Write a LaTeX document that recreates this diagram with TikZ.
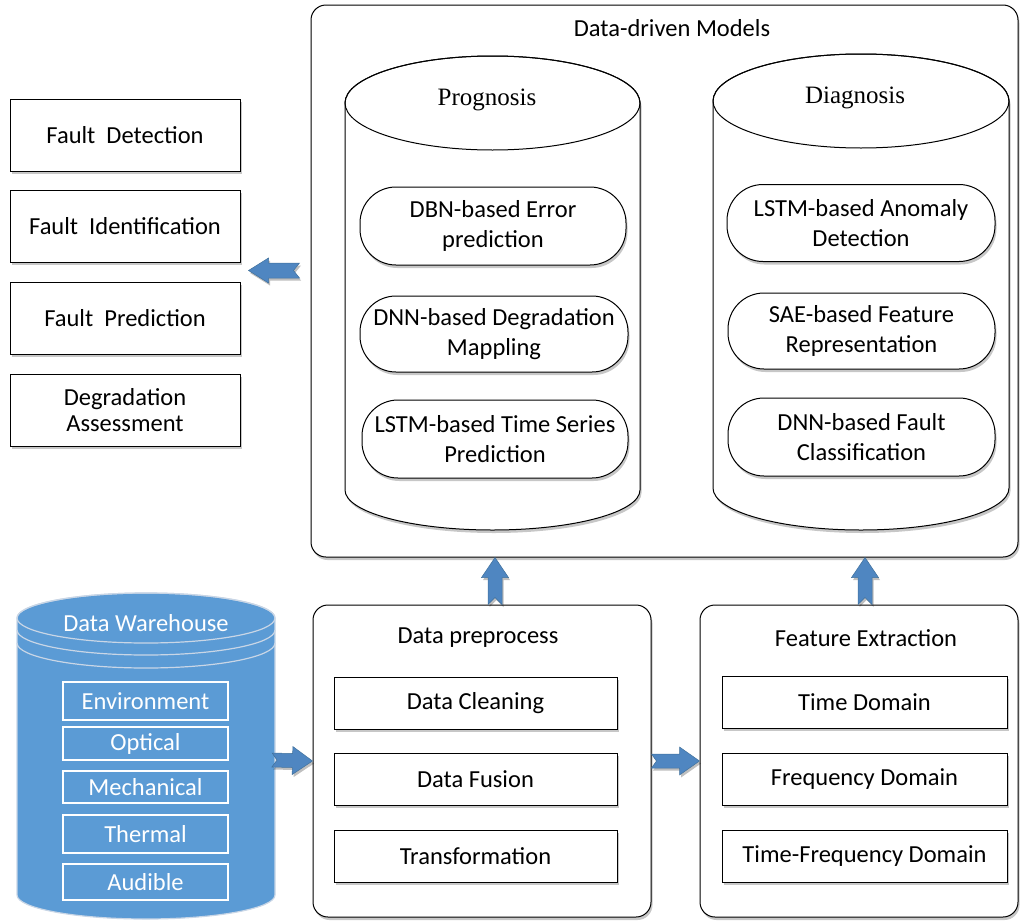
\documentclass[tikz,border=0pt]{standalone}
\usepackage{fontspec}
\setmainfont{Carlito}
\newfontfamily\timesfont{Liberation Serif}
\usetikzlibrary{calc,shadows}

\definecolor{whblue}{HTML}{5B9BD5}
\definecolor{whedge}{HTML}{C9D6E6}
\definecolor{arrowblue}{HTML}{4F86C1}
\definecolor{arrowedge}{HTML}{41719C}

\tikzset{
  base/.style={font=\fontsize{24.5}{30}\selectfont, align=center, inner sep=0pt},
  shade/.style={drop shadow={shadow xshift=1.5pt, shadow yshift=-3pt, fill=black, opacity=0.22}},
  plainbox/.style={base, draw, line width=1pt, fill=white, shade},
  panel/.style={draw, line width=1pt, fill=white, rounded corners=15pt, shade},
  pill/.style={base, draw, line width=1pt, fill=white, rounded corners=36pt, shade},
  cyl/.style={draw, line width=1pt, fill=white, shade},
  whbox/.style={base, draw=white, line width=1.2pt, text=white},
  serifhead/.style={base, font=\timesfont\fontsize{25}{28}\selectfont},
  blockarrow/.style={fill=arrowblue, draw=arrowedge, line width=0.5pt, line join=miter,
    drop shadow={shadow xshift=1.5pt, shadow yshift=-2.5pt, fill=black, opacity=0.25}},
}

% notched block arrow: start, tip, shaft half width, head half width, head length, notch depth
\newcommand\notcharrow[6]{%
  \coordinate (nah) at ($(#2)!#5!(#1)$);
  \path[blockarrow] ($(#1)!#3!90:(#2)$) -- ($(nah)!#3!90:(#2)$) -- ($(nah)!#4!90:(#2)$)
    -- (#2) -- ($(nah)!#4!-90:(#2)$) -- ($(nah)!#3!-90:(#2)$) -- ($(#1)!#3!-90:(#2)$)
    -- ($(#1)!#6!(#2)$) -- cycle;
}

\begin{document}
\begin{tikzpicture}[x=1pt, y=-1pt]
\useasboundingbox (0,0) rectangle (1020,921);

% ---------- outcome boxes ----------
\node[plainbox, minimum width=230pt, minimum height=72pt] (fdet) at (125,135) {Fault~ Detection};
\node[plainbox, minimum width=230pt, minimum height=72pt] (fid)  at (125,226) {Fault~ Identification};
\node[plainbox, minimum width=230pt, minimum height=72pt] (fpre) at (125,318) {Fault~ Prediction};
\node[plainbox, minimum width=230pt, minimum height=72pt, font=\fontsize{24.5}{25.5}\selectfont] (fdeg) at (125,410) {Degradation\\Assessment};

% ---------- data-driven models ----------
\node[panel, minimum width=707pt, minimum height=552pt] (models) at (664.5,281) {};
\node[base] (mtitle) at (672,28) {Data-driven Models};

% prognosis cylinder
\path[cyl] (345,103) -- (345,490) arc[start angle=180, end angle=0, x radius=147.5, y radius=40]
  -- (640,103) arc[start angle=0, end angle=-180, x radius=147.5, y radius=47] -- cycle;
\draw[line width=1pt] (492.5,103) ellipse [x radius=147.5, y radius=47];
\node[serifhead] (prog) at (487,100) {Prognosis};

% diagnosis cylinder
\path[cyl] (713,101) -- (713,488) arc[start angle=180, end angle=0, x radius=148, y radius=42]
  -- (1009,101) arc[start angle=0, end angle=-180, x radius=148, y radius=47] -- cycle;
\draw[line width=1pt] (861,101) ellipse [x radius=148, y radius=47];
\node[serifhead] (diag) at (855,98) {Diagnosis};

% model pills
\node[pill, minimum width=266pt, minimum height=78pt] (p1) at (493,226) {DBN-based Error\\prediction};
\node[pill, minimum width=268pt, minimum height=76pt] (p2) at (494,334) {DNN-based Degradation\\Mappling};
\node[pill, minimum width=266pt, minimum height=78pt] (p3) at (495,439) {LSTM-based Time Series\\Prediction};
\node[pill, minimum width=268pt, minimum height=77pt] (d1) at (861,223) {LSTM-based Anomaly\\Detection};
\node[pill, minimum width=267pt, minimum height=76pt] (d2) at (861.5,331) {SAE-based Feature\\Representation};
\node[pill, minimum width=267pt, minimum height=78pt] (d3) at (861.5,437) {DNN-based Fault\\Classification};

% ---------- data warehouse ----------
\path[fill=whblue, draw=whedge, line width=1.2pt]
  (17,618) -- (17,895) arc[start angle=180, end angle=0, x radius=129, y radius=24]
  -- (275,618) arc[start angle=0, end angle=-180, x radius=129, y radius=25] -- cycle;
\draw[whedge, line width=1.2pt] (146,618) ellipse [x radius=129, y radius=25];
\draw[whedge, line width=1.2pt] (17,630) arc[start angle=180, end angle=0, x radius=129, y radius=25];
\draw[whedge, line width=1.2pt] (17,643) arc[start angle=180, end angle=0, x radius=129, y radius=25];
\node[base, text=white] (ware) at (146,623) {Data Warehouse};
\coordinate (warecol) at (146,760);
\node[whbox, minimum width=165pt, minimum height=38pt] (s1) at (145.5,701) {Environment};
\node[whbox, minimum width=165pt, minimum height=33pt] (s2) at (145.5,743.5) {Optical};
\node[whbox, minimum width=165pt, minimum height=32pt] (s3) at (145.5,787) {Mechanical};
\node[whbox, minimum width=165pt, minimum height=38pt] (s4) at (145.5,834) {Thermal};
\node[whbox, minimum width=165pt, minimum height=36pt] (s5) at (145.5,882) {Audible};

% ---------- data preprocess ----------
\node[panel, minimum width=338pt, minimum height=312pt] (prep) at (482,761) {};
\node[base] (ptitle) at (478,638) {Data preprocess};
\node[plainbox, minimum width=283pt, minimum height=52pt] (c1) at (475.5,703) {Data Cleaning};
\node[plainbox, minimum width=283pt, minimum height=52pt] (c2) at (475.5,779) {Data Fusion};
\node[plainbox, minimum width=283pt, minimum height=52pt] (c3) at (475.5,856) {Transformation};

% ---------- feature extraction ----------
\node[panel, minimum width=318pt, minimum height=312pt] (feat) at (859,761) {};
\node[base] (ftitle) at (866,638) {Feature Extraction};
\node[plainbox, minimum width=285pt, minimum height=52pt] (e1) at (864.5,702) {Time Domain};
\node[plainbox, minimum width=285pt, minimum height=52pt] (e2) at (864.5,779) {Frequency Domain};
\node[plainbox, minimum width=285pt, minimum height=52pt] (e3) at (864.5,856) {Time-Frequency Domain};

% ---------- block arrows ----------
\coordinate (a1s) at ($(warecol)+(126,0)$);
\coordinate (a1t) at (prep.west);
\notcharrow{a1s}{a1t}{7pt}{14pt}{20pt}{5pt}
\notcharrow{prep.east}{feat.west}{7pt}{14pt}{20pt}{5pt}
\coordinate (u1s) at ($(prep.north)+(13,0)$);
\coordinate (u1t) at (u1s |- models.south);
\notcharrow{u1s}{u1t}{7pt}{13.5pt}{20pt}{7pt}
\coordinate (u2s) at ($(feat.north)+(6,0)$);
\coordinate (u2t) at (u2s |- models.south);
\notcharrow{u2s}{u2t}{7pt}{13.5pt}{20pt}{7pt}
\coordinate (l1s) at ($(models.west |- fid.south)+(-11,8)$);
\coordinate (l1t) at ($(fid.south east)+(8,8)$);
\notcharrow{l1s}{l1t}{7.5pt}{12.5pt}{20pt}{6pt}
\end{tikzpicture}
\end{document}
